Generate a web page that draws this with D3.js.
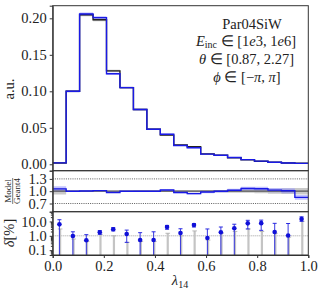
<!DOCTYPE html>
<html>
<head>
<meta charset="utf-8">
<script src="https://cdn.jsdelivr.net/npm/d3@7"></script>
<style>
	body { margin: 0; background: #fff; }
	text { font-family: "Liberation Serif", serif; fill: #222; }
</style>
</head>
<body>
<div id="chart"></div>
<script>
		var width = 324, height = 292;
		var left = 52.7, right = 308.3;
		var nBins = 19;

		// histogram (normalised), Geant4 and model, 19 bins over [0,1]
		const geant4 = [0.0018, 0.100, 0.205, 0.198, 0.128, 0.105, 0.075, 0.048, 0.040, 0.0265, 0.0240, 0.0142, 0.0123, 0.0090, 0.0060, 0.0041, 0.0027, 0.0018, 0.0014];
		const model  = [0.0019, 0.100, 0.206, 0.201, 0.124, 0.105, 0.075, 0.048, 0.0412, 0.0257, 0.0226, 0.0139, 0.0123, 0.0092, 0.0064, 0.00435, 0.00277, 0.00182, 0.00119];
		// relative uncertainties
		const geant4Err = [0.08, 0.012, 0.01, 0.01, 0.012, 0.012, 0.015, 0.018, 0.02, 0.022, 0.025, 0.028, 0.03, 0.035, 0.04, 0.05, 0.06, 0.07, 0.08];
		const modelErr  = [0.06, 0.012, 0.01, 0.01, 0.012, 0.012, 0.015, 0.018, 0.02, 0.022, 0.025, 0.028, 0.03, 0.035, 0.04, 0.045, 0.05, 0.06, 0.07];

		// delta panel [%]
		const deltaVal  = [6.3, 0.97, 0.49, 1.75, 2.85, 1.33, 0.51, 0.51, 4.1, 1.56, 5.6, 0.7, 1.75, 3.4, 7.4, 7.6, 1.85, 1.06, 14.8];
		const deltaHigh = [13.2, 1.9, 1.2, 2.3, 3.7, 2.5, 1.65, 1.9, 5.3, 3.1, 7.0, 3.0, 4.1, 6.4, 12.0, 12.4, 7.4, 7.2, 21.0];
		const deltaLow  = [0, 0, 0, 1.27, 2.2, 0.35, 0, 0, 2.85, 0, 4.1, 0, 0, 0, 3.0, 2.4, 0, 0, 10.2];
		const greyTop   = [3, 0.6, 0.4, 1.27, 1.0, 0.35, 0.4, 0.4, 1.5, 1.0, 2.2, 0.5, 1.5, 2.0, 3.0, 2.0, 1.5, 0.8, 10.2];

		const yTicks = [0, 0.05, 0.10, 0.15, 0.20];
		const ratioTicks = [0.7, 1.0, 1.3];
		const deltaTicks = [0.1, 1, 10];
		const xTicks = [0, 0.2, 0.4, 0.6, 0.8, 1.0];

		var svg = d3.select('#chart')
			.append('svg')
			.attr('width', width)
			.attr('height', height);

		var xScale = d3.scaleLinear().domain([0, 1]).range([left, right]);

		var top1 = 5.7, bot1 = 170.7;
		var top2 = 170.7, bot2 = 211.7;
		var top3 = 211.7, bot3 = 255;

		var yScale = d3.scaleLinear().domain([-0.0088, 0.2173]).range([bot1, top1]);
		var rScale = d3.scaleLinear().domain([0.5, 1.5]).range([bot2, top2]);
		var dScale = d3.scaleLog().domain([0.046, 47.8]).range([bot3, top3]);

		var edges = d3.range(nBins + 1).map(i => i / nBins);
		var centers = d3.range(nBins).map(i => (i + 0.5) / nBins);

		function stepPts(vals) {
			var p = vals.map((v, i) => ({x: edges[i], v: v, i: i}));
			p.push({x: 1, v: vals[nBins - 1], i: nBins - 1});
			return p;
		}

		var clip = svg.append('defs');
		[['c1', top1, bot1], ['c2', top2, bot2], ['c3', top3, bot3]].forEach(c => {
			clip.append('clipPath').attr('id', c[0])
				.append('rect').attr('x', left).attr('y', c[1])
				.attr('width', right - left).attr('height', c[2] - c[1]);
		});

		// ---------- top panel ----------
		var g1 = svg.append('g').attr('clip-path', 'url(#c1)');

		var band = function(vals, errs, sc) {
			return d3.area().curve(d3.curveStepAfter)
				.x(d => xScale(d.x))
				.y0(d => sc(vals[d.i] * (1 - errs[d.i])))
				.y1(d => sc(vals[d.i] * (1 + errs[d.i])));
		};
		var stepLine = function(sc) {
			return d3.line().curve(d3.curveStepAfter)
				.x(d => xScale(d.x))
				.y(d => sc(d.v));
		};

		g1.append('path').attr('d', band(geant4, geant4Err, yScale)(stepPts(geant4)))
			.attr('fill', '#888').attr('opacity', 0.5);
		g1.append('path').attr('d', band(model, modelErr, yScale)(stepPts(model)))
			.attr('fill', '#7b7bff').attr('opacity', 0.5);
		g1.append('path').attr('d', stepLine(yScale)(stepPts(geant4)))
			.attr('fill', 'none').attr('stroke', '#222').attr('stroke-width', 1.4);
		g1.append('path').attr('d', stepLine(yScale)(stepPts(model)))
			.attr('fill', 'none').attr('stroke', '#1a1ae6').attr('stroke-width', 1.4);

		var yAxis = d3.axisLeft(yScale).tickValues(yTicks).tickFormat(d3.format('.2f')).tickSize(3).tickPadding(3);
		svg.append('g').attr('transform', 'translate(' + left + ',0)').call(yAxis);

		var info = svg.append('g').attr('font-size', '14.5px');
		info.append('text').attr('x', 252).attr('y', 28.7).attr('text-anchor', 'middle').text('Par04SiW');
		var t2 = info.append('text').attr('x', 246).attr('y', 45.7).attr('text-anchor', 'middle');
		t2.append('tspan').attr('font-style', 'italic').text('E');
		t2.append('tspan').attr('font-size', '10px').attr('dy', 2.5).text('inc');
		t2.append('tspan').attr('dy', -2.5).text(' ∈ [1');
		t2.append('tspan').attr('font-style', 'italic').text('e');
		t2.append('tspan').text('3, 1');
		t2.append('tspan').attr('font-style', 'italic').text('e');
		t2.append('tspan').text('6]');
		var t3 = info.append('text').attr('x', 246.5).attr('y', 63.5).attr('text-anchor', 'middle');
		t3.append('tspan').attr('font-style', 'italic').text('θ');
		t3.append('tspan').text(' ∈ [0.87, 2.27]');
		var t4 = info.append('text').attr('x', 247).attr('y', 81.5).attr('text-anchor', 'middle');
		t4.append('tspan').attr('font-style', 'italic').text('ϕ');
		t4.append('tspan').text(' ∈ [−');
		t4.append('tspan').attr('font-style', 'italic').text('π');
		t4.append('tspan').text(', ');
		t4.append('tspan').attr('font-style', 'italic').text('π');
		t4.append('tspan').text(']');

		svg.append('text').attr('transform', 'translate(14,89) rotate(-90)')
			.attr('text-anchor', 'middle').attr('font-size', '14.5px').text('a.u.');

		// ---------- ratio panel ----------
		var g2 = svg.append('g').attr('clip-path', 'url(#c2)');
		var ones = geant4.map(() => 1);
		var ratio = model.map((m, i) => m / geant4[i]);

		g2.append('path').attr('d', band(ones, geant4Err, rScale)(stepPts(ones)))
			.attr('fill', '#888').attr('opacity', 0.45);
		g2.append('path').attr('d', band(ratio, modelErr, rScale)(stepPts(ratio)))
			.attr('fill', '#7b7bff').attr('opacity', 0.45);
		[0.7, 1.3].forEach(v => {
			g2.append('line').attr('x1', left).attr('x2', right)
				.attr('y1', rScale(v)).attr('y2', rScale(v))
				.attr('stroke', '#333').attr('stroke-width', 0.8).attr('stroke-dasharray', '1,1.2');
		});
		g2.append('line').attr('x1', left).attr('x2', right)
			.attr('y1', rScale(1)).attr('y2', rScale(1))
			.attr('stroke', '#555').attr('stroke-width', 1.2);
		g2.append('path').attr('d', stepLine(rScale)(stepPts(ratio)))
			.attr('fill', 'none').attr('stroke', '#1a1ae6').attr('stroke-width', 1.4);

		var rAxis = d3.axisLeft(rScale).tickValues(ratioTicks).tickFormat(d3.format('.1f')).tickSize(3).tickPadding(3);
		svg.append('g').attr('transform', 'translate(' + left + ',0)').call(rAxis);

		var frac = svg.append('g').attr('transform', 'translate(12.7,191) rotate(-90)').attr('font-size', '9px');
		frac.append('text').attr('y', -1.3).attr('text-anchor', 'middle').text('Model');
		frac.append('line').attr('x1', -13).attr('x2', 13).attr('stroke', '#222').attr('stroke-width', 0.6);
		frac.append('text').attr('y', 7.2).attr('text-anchor', 'middle').text('Geant4');

		// ---------- delta panel ----------
		var g3 = svg.append('g').attr('clip-path', 'url(#c3)');
		g3.append('line').attr('x1', left).attr('x2', right)
			.attr('y1', dScale(1)).attr('y2', dScale(1))
			.attr('stroke', '#888').attr('stroke-width', 0.8).attr('stroke-dasharray', '1,1');

		centers.forEach((c, i) => {
			var x = xScale(c);
			g3.append('line').attr('x1', x + 0.7).attr('x2', x + 0.7)
				.attr('y1', bot3).attr('y2', dScale(greyTop[i]))
				.attr('stroke', '#c4c4c4').attr('stroke-width', 2.2);
			g3.append('line').attr('x1', x - 1.6).attr('x2', x + 3)
				.attr('y1', dScale(greyTop[i])).attr('y2', dScale(greyTop[i]))
				.attr('stroke', '#aaa').attr('stroke-width', 0.8);
		});
		centers.forEach((c, i) => {
			var x = xScale(c);
			var lo = deltaLow[i] > 0 ? dScale(deltaLow[i]) : bot3;
			g3.append('line').attr('x1', x).attr('x2', x)
				.attr('y1', lo).attr('y2', dScale(deltaHigh[i]))
				.attr('stroke', '#2a2ae0').attr('stroke-width', 1.1).attr('opacity', 0.85);
			g3.append('line').attr('x1', x - 2).attr('x2', x + 2)
				.attr('y1', dScale(deltaHigh[i])).attr('y2', dScale(deltaHigh[i]))
				.attr('stroke', '#2a2ae0').attr('stroke-width', 1);
			if (deltaLow[i] > 0) {
				g3.append('line').attr('x1', x - 2).attr('x2', x + 2)
					.attr('y1', lo).attr('y2', lo)
					.attr('stroke', '#2a2ae0').attr('stroke-width', 1);
			}
			g3.append('circle').attr('cx', x).attr('cy', dScale(deltaVal[i])).attr('r', 2.3)
				.attr('fill', '#1010d8');
		});

		var minor = [];
		[0.01, 0.1, 1, 10].forEach(dec => {
			for (var k = 2; k <= 9; k++) {
				var v = dec * k;
				if (v > 0.046 && v < 47.8) minor.push(v);
			}
		});
		svg.append('g').attr('transform', 'translate(' + left + ',0)')
			.call(d3.axisLeft(dScale).tickValues(minor).tickFormat('').tickSize(1.8))
			.select('.domain').remove();
		var dAxis = d3.axisLeft(dScale).tickValues(deltaTicks).tickFormat(d3.format('.1f')).tickSize(3).tickPadding(3);
		svg.append('g').attr('transform', 'translate(' + left + ',0)').call(dAxis);

		var dl = svg.append('text').attr('transform', 'translate(14,233) rotate(-90)')
			.attr('text-anchor', 'middle').attr('font-size', '14.5px');
		dl.append('tspan').attr('font-style', 'italic').text('δ');
		dl.append('tspan').text('[%]');

		var xAxis = d3.axisBottom(xScale).tickValues(xTicks).tickFormat(d3.format('.1f')).tickSize(3).tickPadding(3);
		svg.append('g').attr('transform', 'translate(0,' + bot3 + ')').call(xAxis);

		var xl = svg.append('text').attr('x', 180).attr('y', 285).attr('text-anchor', 'middle').attr('font-size', '14.5px');
		xl.append('tspan').attr('font-style', 'italic').text('λ');
		xl.append('tspan').attr('font-size', '10px').attr('dy', 3).text('14');

		// frames
		[[top1, bot1], [top2, bot2], [top3, bot3]].forEach(p => {
			svg.append('rect').attr('x', left).attr('y', p[0])
				.attr('width', right - left).attr('height', p[1] - p[0])
				.attr('fill', 'none').attr('stroke', '#333').attr('stroke-width', 1);
		});

		svg.selectAll('.tick text').attr('font-family', '"Liberation Serif", serif').attr('font-size', '14.5px').attr('fill', '#222');
		svg.selectAll('.tick line').attr('stroke', '#333');
		svg.selectAll('.domain').attr('stroke', '#333');
</script>
</body>
</html>
